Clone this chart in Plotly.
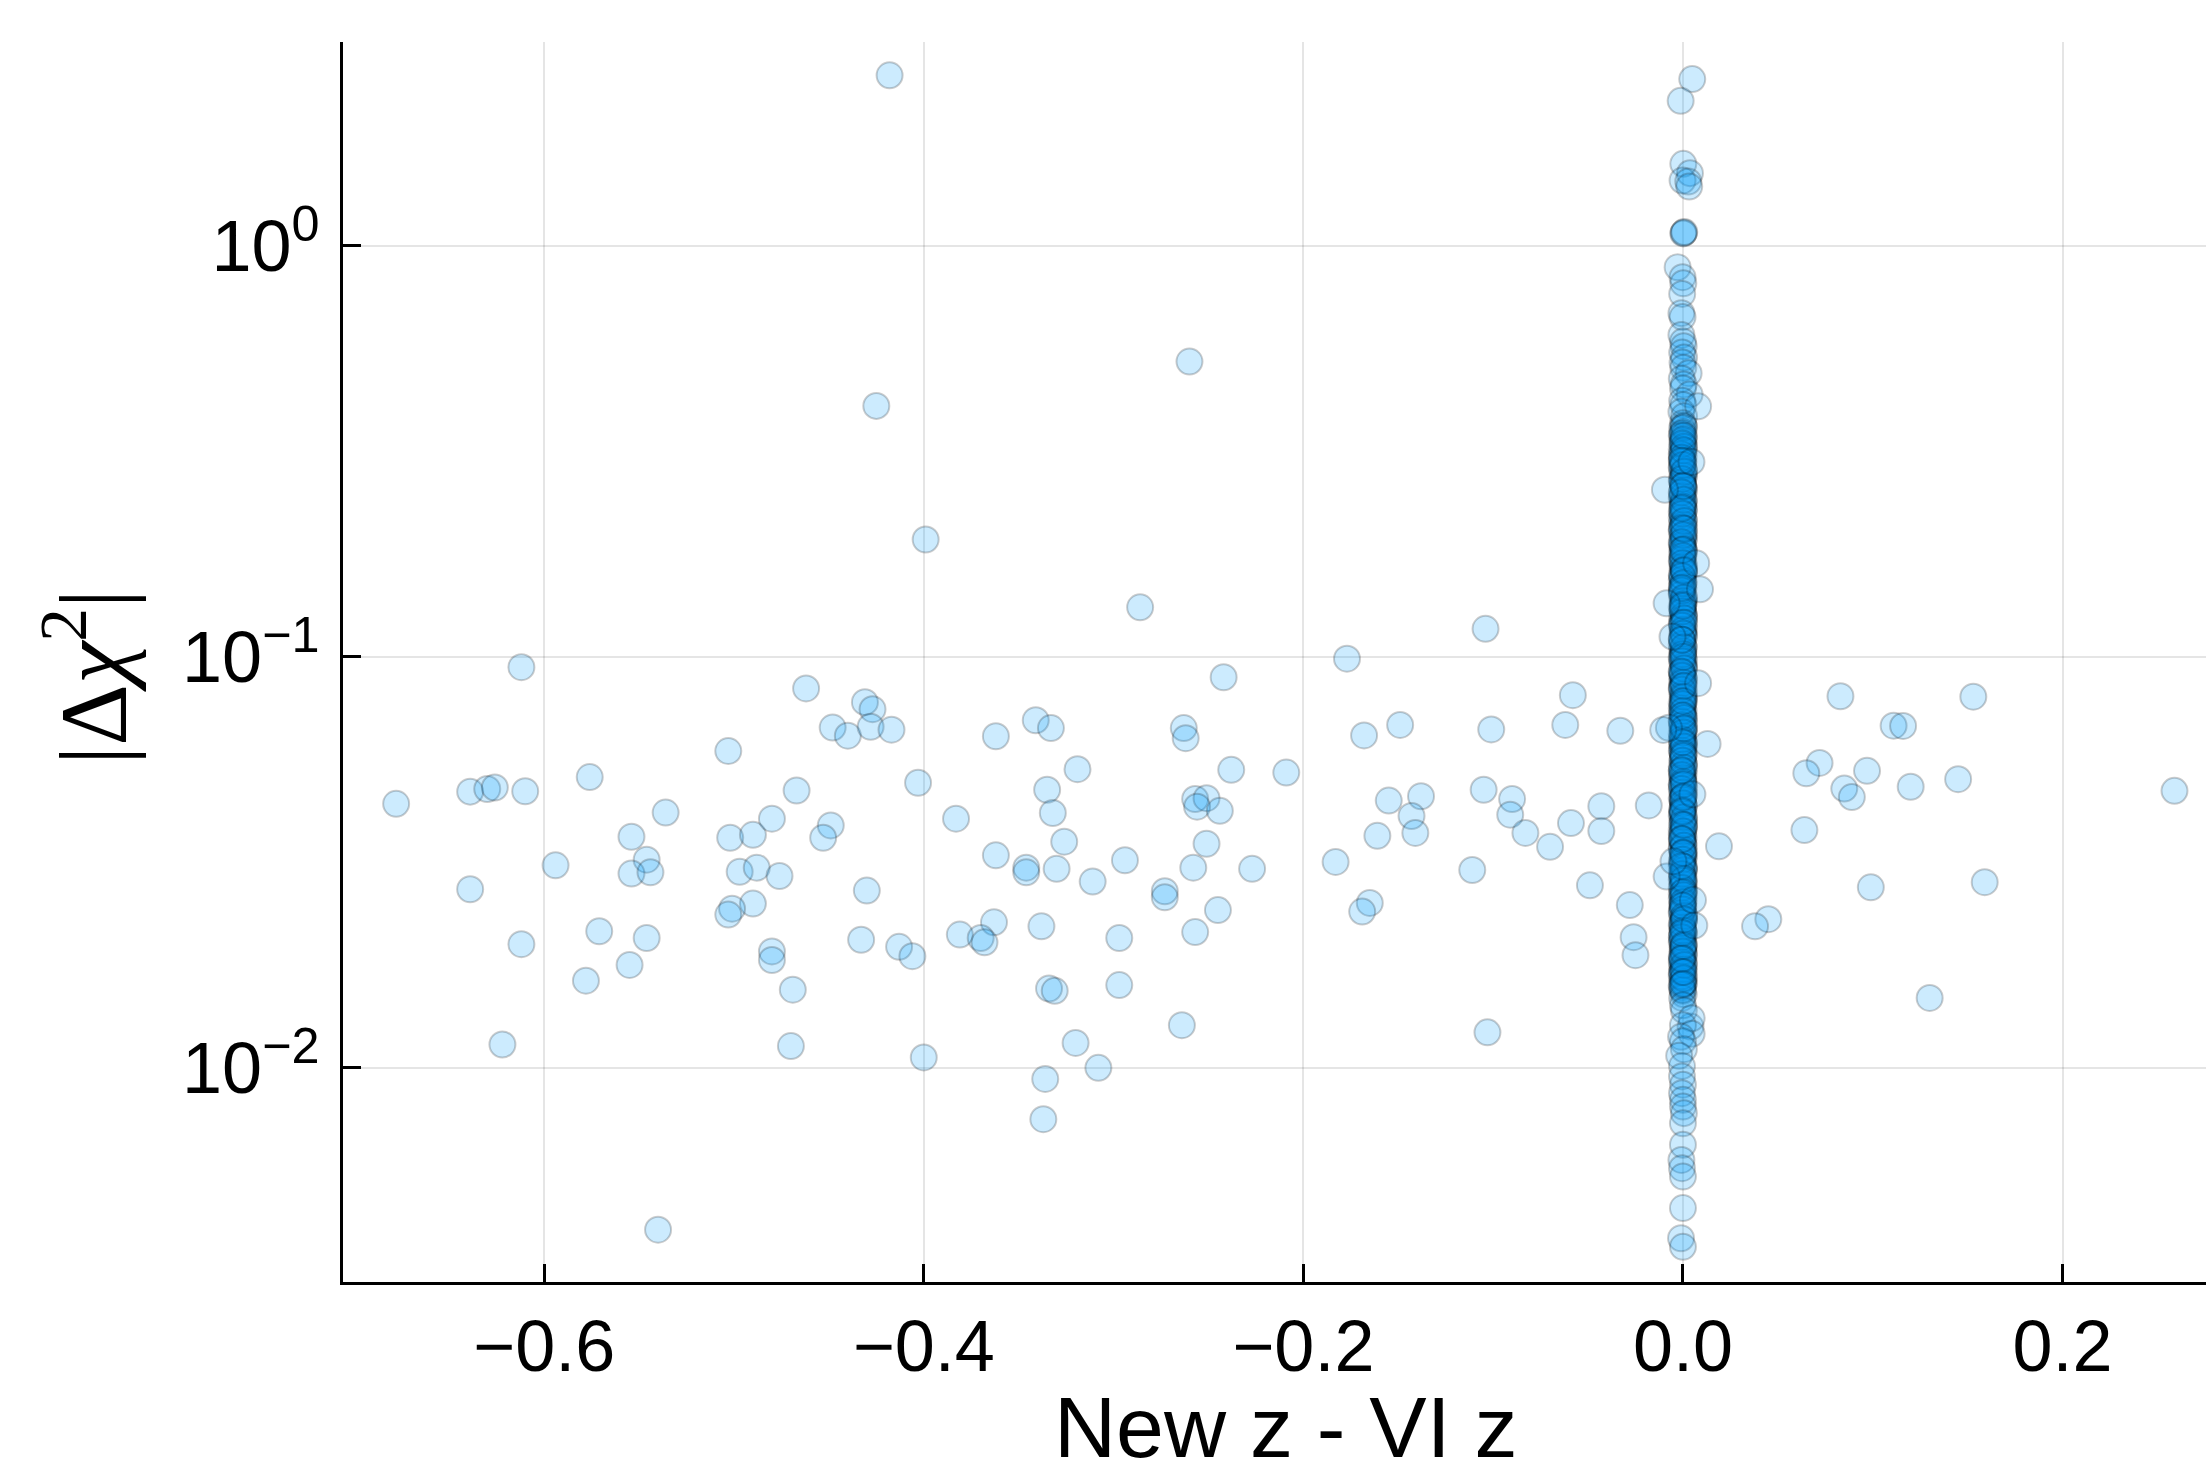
import plotly.graph_objects as go

# ---------------- data ----------------
# scattered points away from the z = 0 column: (New z - VI z, |delta chi^2|)
scatter_points = [
    (-0.678, 0.0439), (-0.639, 0.0470), (-0.630, 0.0477), (-0.626, 0.0481),
    (-0.610, 0.0471), (-0.612, 0.0944), (-0.576, 0.0510), (-0.639, 0.0272),
    (-0.594, 0.0311), (-0.612, 0.0200), (-0.622, 0.0114), (-0.571, 0.0215),
    (-0.578, 0.0163), (-0.555, 0.0178), (-0.546, 0.0207), (-0.554, 0.0365),
    (-0.536, 0.0418), (-0.546, 0.0321), (-0.554, 0.0297), (-0.544, 0.0299),
    (-0.503, 0.0590), (-0.502, 0.0363), (-0.490, 0.0369), (-0.480, 0.0404),
    (-0.467, 0.0473), (-0.497, 0.0300), (-0.488, 0.0307), (-0.476, 0.0293),
    (-0.490, 0.0251), (-0.501, 0.0244), (-0.503, 0.0236), (-0.480, 0.0192),
    (-0.480, 0.0183), (-0.469, 0.0155), (-0.470, 0.0113), (-0.462, 0.0838),
    (-0.449, 0.0389), (-0.453, 0.0363), (-0.448, 0.0673), (-0.440, 0.0643),
    (-0.431, 0.0776), (-0.427, 0.0746), (-0.428, 0.0676), (-0.417, 0.0665),
    (-0.403, 0.0494), (-0.430, 0.0270), (-0.433, 0.0205), (-0.413, 0.0197),
    (-0.406, 0.0187), (-0.400, 0.0106), (-0.383, 0.0404), (-0.362, 0.0641),
    (-0.341, 0.0701), (-0.333, 0.0671), (-0.319, 0.0533), (-0.335, 0.0475),
    (-0.332, 0.0417), (-0.326, 0.0355), (-0.362, 0.0329), (-0.346, 0.0307),
    (-0.346, 0.0299), (-0.330, 0.0305), (-0.311, 0.0284), (-0.294, 0.0320),
    (-0.363, 0.0226), (-0.381, 0.0211), (-0.370, 0.0207), (-0.368, 0.0202),
    (-0.338, 0.0221), (-0.297, 0.0207), (-0.334, 0.0156), (-0.331, 0.0154),
    (-0.297, 0.0159), (-0.320, 0.0115), (-0.308, 0.0100), (-0.336, 0.0094),
    (-0.337, 0.0075), (-0.540, 0.00404),
    (-0.418, 2.60), (-0.260, 0.523), (-0.425, 0.408), (-0.399, 0.193),
    (-0.286, 0.132), (-0.104, 0.117), (-0.177, 0.099),
    (-0.242, 0.0892), (-0.263, 0.0671), (-0.262, 0.0634), (-0.238, 0.0531),
    (-0.209, 0.0523), (-0.168, 0.0644), (-0.257, 0.0451), (-0.251, 0.0453),
    (-0.256, 0.0432), (-0.244, 0.0422), (-0.251, 0.0351), (-0.258, 0.0307),
    (-0.227, 0.0305), (-0.273, 0.0269), (-0.273, 0.0260), (-0.245, 0.0242),
    (-0.257, 0.0214), (-0.264, 0.0127), (-0.183, 0.0317), (-0.161, 0.0367),
    (-0.165, 0.0252), (-0.169, 0.0240),
    (-0.058, 0.0807), (-0.149, 0.0683), (-0.101, 0.0666), (-0.062, 0.0683),
    (-0.033, 0.0661), (-0.105, 0.0475), (-0.090, 0.0451), (-0.091, 0.0413),
    (-0.083, 0.0373), (-0.070, 0.0345), (-0.059, 0.0394), (-0.043, 0.0433),
    (-0.043, 0.0377), (-0.018, 0.0435), (-0.155, 0.0447), (-0.138, 0.0458),
    (-0.143, 0.0410), (-0.141, 0.0373), (-0.111, 0.0303), (-0.049, 0.0278),
    (-0.028, 0.0249), (-0.026, 0.0208), (-0.025, 0.0188), (-0.103, 0.0122),
    (0.083, 0.0802), (0.153, 0.0800), (0.111, 0.0680), (0.116, 0.0679),
    (0.072, 0.0552), (0.065, 0.0521), (0.097, 0.0528), (0.085, 0.0478),
    (0.089, 0.0456), (0.120, 0.0483), (0.145, 0.0504), (0.259, 0.0472),
    (0.064, 0.0379), (0.019, 0.0346), (0.013, 0.0614), (0.099, 0.0275),
    (0.159, 0.0283), (0.045, 0.0230), (0.038, 0.0221), (0.130, 0.0148),
]

# points in the dense column around New z - VI z = 0
column_points = [
    # sparse upper part
    (0.0049, 2.545), (-0.0012, 2.253), (0.0002, 1.583), (0.0037, 1.503),
    (-0.0002, 1.442), (0.0028, 1.434), (0.0033, 1.394), (0.0004, 1.076),
    (0.0002, 1.072), (0.0007, 1.080), (-0.0028, 0.887), (-0.0002, 0.839),
    (0.0002, 0.811), (-0.0004, 0.764), (-0.0008, 0.686), (-0.0002, 0.671),
    (-0.0008, 0.607),
    (0.0, 0.585), (0.0004, 0.57), (-0.0004, 0.55), (0.0006, 0.535),
    (-0.0002, 0.52), (0.0002, 0.505), (0.003, 0.49), (-0.0006, 0.475),
    (0.0004, 0.46), (0.0, 0.45), (0.0035, 0.435), (-0.0004, 0.42),
    (0.0002, 0.41), (-0.0008, 0.395), (0.0006, 0.385), (0.008, 0.407),
    # dense core, first layer
    (0.0, 0.37), (0.0004, 0.365), (-0.0004, 0.36), (0.0002, 0.352),
    (-0.0006, 0.345), (0.0006, 0.34), (-0.0002, 0.333), (0.0004, 0.327),
    (-0.0006, 0.32), (0.0, 0.315), (0.0004, 0.308), (-0.0004, 0.302),
    (0.0002, 0.297), (-0.0006, 0.29), (0.0006, 0.285), (-0.0002, 0.279),
    (0.0004, 0.274), (-0.0006, 0.268), (0.0, 0.263), (0.0004, 0.258),
    (-0.0004, 0.253), (0.0002, 0.248), (-0.0006, 0.243), (0.0006, 0.238),
    (-0.0002, 0.234), (0.0004, 0.229), (-0.0006, 0.225), (0.0, 0.221),
    (0.0004, 0.216), (-0.0004, 0.212), (0.0002, 0.208), (-0.0006, 0.204),
    (0.0006, 0.2), (-0.0002, 0.196), (0.0004, 0.192), (-0.0006, 0.188),
    (0.0, 0.185), (0.0004, 0.181), (-0.0004, 0.178), (0.0002, 0.174),
    (-0.0006, 0.171), (0.0006, 0.167), (-0.0002, 0.164), (0.0004, 0.161),
    (-0.0006, 0.158), (0.0, 0.155), (0.0004, 0.152), (-0.0004, 0.149),
    (0.0002, 0.146), (-0.0006, 0.143), (0.0006, 0.14), (-0.0002, 0.137),
    (0.0004, 0.135), (-0.0006, 0.132), (0.0, 0.13), (0.0004, 0.127),
    (-0.0004, 0.125), (0.0002, 0.122), (-0.0006, 0.12), (0.0006, 0.117),
    (-0.0002, 0.115), (0.0004, 0.113), (-0.0006, 0.111), (0.0, 0.108),
    (0.0004, 0.106), (-0.0004, 0.104), (0.0002, 0.102), (-0.0006, 0.1),
    (0.0006, 0.098), (-0.0002, 0.096), (0.0004, 0.094), (-0.0006, 0.092),
    (0.0, 0.09), (0.0004, 0.089), (-0.0004, 0.087), (0.0002, 0.085),
    (-0.0006, 0.084), (0.0006, 0.082), (-0.0002, 0.08), (0.0004, 0.079),
    (-0.0006, 0.077), (0.0, 0.076), (0.0004, 0.074), (-0.0004, 0.073),
    (0.0002, 0.071), (-0.0006, 0.07), (0.0006, 0.069), (-0.0002, 0.067),
    (0.0004, 0.066), (-0.0006, 0.065), (0.0, 0.063), (0.0004, 0.062),
    (-0.0004, 0.061), (0.0002, 0.06), (-0.0006, 0.059), (0.0006, 0.058),
    (-0.0002, 0.056), (0.0004, 0.055), (-0.0006, 0.054), (0.0, 0.053),
    (0.0004, 0.052), (-0.0004, 0.051), (0.0002, 0.05), (-0.0006, 0.049),
    (0.0006, 0.048), (-0.0002, 0.047), (0.0004, 0.046), (-0.0006, 0.0452),
    (0.0, 0.0443), (0.0004, 0.0435), (-0.0004, 0.0426), (0.0002, 0.0418),
    (-0.0006, 0.041), (0.0006, 0.0402), (-0.0002, 0.0394), (0.0004, 0.0386),
    (-0.0006, 0.0378), (0.0, 0.0371), (0.0004, 0.0364), (-0.0004, 0.0357),
    (0.0002, 0.035), (-0.0006, 0.0343), (0.0006, 0.0336), (-0.0002, 0.033),
    (0.0004, 0.0323), (-0.0006, 0.0317), (0.0, 0.031), (0.0004, 0.0304),
    (-0.0004, 0.0298), (0.0002, 0.0293), (-0.0006, 0.0287), (0.0006, 0.0281),
    (-0.0002, 0.0276), (0.0004, 0.027), (-0.0006, 0.0265), (0.0, 0.026),
    (0.0004, 0.0255), (-0.0004, 0.025), (0.0002, 0.0245), (-0.0006, 0.024),
    (0.0006, 0.0236), (-0.0002, 0.0231), (0.0004, 0.0227), (-0.0006, 0.0222),
    (0.0, 0.0218), (0.0004, 0.0214), (-0.0004, 0.021), (0.0002, 0.0206),
    (-0.0006, 0.0202), (0.0006, 0.0198), (-0.0002, 0.0194), (0.0004, 0.019),
    (-0.0006, 0.0187), (0.0, 0.0183), (0.0004, 0.018), (-0.0004, 0.0176),
    (0.0002, 0.0173), (-0.0006, 0.017), (0.0006, 0.0166), (-0.0002, 0.0163),
    (0.0004, 0.016), (-0.0006, 0.0157), (0.0, 0.0154), (0.0004, 0.0151),
    (-0.0004, 0.0148),
    # dense core, second layer
    (0.0006, 0.362), (-0.0004, 0.349), (0.0, 0.337), (0.0006, 0.324),
    (-0.0006, 0.311), (0.0002, 0.299), (-0.0006, 0.288), (0.0004, 0.276),
    (-0.0002, 0.266), (0.0006, 0.255), (-0.0004, 0.246), (0.0, 0.236),
    (0.0006, 0.227), (-0.0006, 0.218), (0.0002, 0.21), (-0.0006, 0.202),
    (0.0004, 0.194), (-0.0002, 0.187), (0.0006, 0.18), (-0.0004, 0.173),
    (0.0, 0.166), (0.0006, 0.16), (-0.0006, 0.154), (0.0002, 0.148),
    (-0.0006, 0.142), (0.0004, 0.137), (-0.0002, 0.131), (0.0006, 0.126),
    (-0.0004, 0.121), (0.0, 0.116), (0.0006, 0.112), (-0.0006, 0.107),
    (0.0002, 0.103), (-0.0006, 0.099), (0.0004, 0.095), (-0.0002, 0.091),
    (0.0006, 0.088), (-0.0004, 0.0845), (0.0, 0.081), (0.0006, 0.078),
    (-0.0006, 0.075), (0.0002, 0.072), (-0.0006, 0.0695), (0.0004, 0.0668),
    (-0.0002, 0.0642), (0.0006, 0.0617), (-0.0004, 0.0593), (0.0, 0.057),
    (0.0006, 0.0548), (-0.0006, 0.0527), (0.0002, 0.0507), (-0.0006, 0.0487),
    (0.0004, 0.0468), (-0.0002, 0.045), (0.0006, 0.0433), (-0.0004, 0.0416),
    (0.0, 0.04), (0.0006, 0.0385), (-0.0006, 0.037), (0.0002, 0.0355),
    (-0.0006, 0.0341), (0.0004, 0.0328), (-0.0002, 0.0315), (0.0006, 0.0303),
    (-0.0004, 0.0291), (0.0, 0.028), (0.0006, 0.0269), (-0.0006, 0.0258),
    (0.0002, 0.0248), (-0.0006, 0.0238), (0.0004, 0.0229), (-0.0002, 0.022),
    (0.0006, 0.0212), (-0.0004, 0.0204), (0.0, 0.0196), (0.0006, 0.0188),
    (-0.0006, 0.0181), (0.0002, 0.0174), (-0.0006, 0.0167), (0.0004, 0.0161),
    (-0.0002, 0.0155),
    # dense core, third layer
    (-0.0002, 0.33), (0.0004, 0.318), (-0.0006, 0.305), (0.0, 0.293),
    (0.0006, 0.282), (-0.0004, 0.271), (0.0002, 0.261), (-0.0006, 0.251),
    (0.0004, 0.241), (0.0, 0.232), (-0.0002, 0.223), (0.0006, 0.214),
    (-0.0004, 0.206), (0.0002, 0.198), (-0.0006, 0.19), (0.0004, 0.183),
    (0.0, 0.176), (-0.0002, 0.169), (0.0006, 0.163), (-0.0004, 0.157),
    (0.0002, 0.151), (-0.0006, 0.145), (0.0004, 0.139), (0.0, 0.134),
    (-0.0002, 0.129), (0.0006, 0.124), (-0.0004, 0.119), (0.0002, 0.114),
    (-0.0006, 0.11), (0.0004, 0.1055), (0.0, 0.1015), (-0.0002, 0.0975),
    (0.0006, 0.0937), (-0.0004, 0.09), (0.0002, 0.0865), (-0.0006, 0.0832),
    (0.0004, 0.08), (0.0, 0.0768), (-0.0002, 0.0738), (0.0006, 0.071),
    (-0.0004, 0.0682), (0.0002, 0.0655), (-0.0006, 0.063), (0.0004, 0.0605),
    (0.0, 0.0582), (-0.0002, 0.0559), (0.0006, 0.0537), (-0.0004, 0.0516),
    (0.0002, 0.0496), (-0.0006, 0.0477), (0.0004, 0.0458), (0.0, 0.044),
    (-0.0002, 0.0423), (0.0006, 0.0407), (-0.0004, 0.0391), (0.0002, 0.0376),
    (-0.0006, 0.0361), (0.0004, 0.0347), (0.0, 0.0334), (-0.0002, 0.0321),
    (0.0006, 0.0308), (-0.0004, 0.0296), (0.0002, 0.0285), (-0.0006, 0.0274),
    (0.0004, 0.0263), (0.0, 0.0253), (-0.0002, 0.0243), (0.0006, 0.0234),
    (-0.0004, 0.0225), (0.0002, 0.0216), (-0.0006, 0.0208), (0.0004, 0.02),
    (0.0, 0.0192), (-0.0002, 0.0185), (0.0006, 0.0178), (-0.0004, 0.0171),
    (0.0002, 0.0165), (-0.0006, 0.0159),
    # dense core, fourth layer
    (0.0004, 0.345), (-0.0006, 0.3), (0.0002, 0.26), (-0.0004, 0.23),
    (0.0006, 0.205), (-0.0002, 0.182), (0.0004, 0.162), (-0.0006, 0.147),
    (0.0, 0.133), (0.0006, 0.121), (-0.0004, 0.11), (0.0002, 0.1),
    (-0.0006, 0.092), (0.0004, 0.085), (0.0, 0.078), (-0.0002, 0.072),
    (0.0006, 0.067), (-0.0004, 0.062), (0.0002, 0.0575), (-0.0006, 0.053),
    (0.0004, 0.049), (0.0, 0.0455), (-0.0002, 0.042), (0.0006, 0.039),
    (-0.0004, 0.036), (0.0002, 0.0333), (-0.0006, 0.031), (0.0004, 0.0288),
    (0.0, 0.0267), (-0.0002, 0.0248), (0.0006, 0.023), (-0.0004, 0.0213),
    (0.0002, 0.0198), (-0.0006, 0.0184), (0.0004, 0.0171), (0.0, 0.016),
    # points that stick out of the column
    (-0.0074, 0.0672), (0.008, 0.0863), (0.0053, 0.0256), (-0.0104, 0.0664),
    (0.009, 0.146), (-0.0095, 0.255), (0.007, 0.169), (-0.0086, 0.135),
    (-0.0086, 0.0292), (0.004, 0.0126), (0.005, 0.0463), (-0.005, 0.0318),
    (0.006, 0.0222), (-0.0055, 0.112), (0.0045, 0.298),
    # lower tail of the column
    (0.0, 0.0142), (0.0005, 0.0138), (0.0046, 0.0132), (0.0, 0.0127),
    (0.0046, 0.0121), (-0.001, 0.0119), (0.0, 0.0116), (0.0005, 0.0111),
    (-0.002, 0.0107), (-0.0005, 0.0101), (-0.0005, 0.00953), (0.0, 0.0091),
    (-0.0005, 0.00868), (0.0, 0.00836), (0.0, 0.00805), (0.0005, 0.00776),
    (0.0, 0.00733), (0.0, 0.0065), (-0.0008, 0.00597), (-0.0005, 0.0057),
    (0.0, 0.00544), (0.0, 0.00456), (-0.001, 0.00385), (0.0, 0.00367),
]

x_tick_vals = [-0.6, -0.4, -0.2, 0.0, 0.2]
x_tick_text = ["\u22120.6", "\u22120.4", "\u22120.2", "0.0", "0.2"]
y_tick_vals = [1, 0.1, 0.01]
y_tick_text = ["10<sup>0</sup>", "10<sup>\u22121</sup>", "10<sup>\u22122</sup>"]

# ---------------- figure ----------------
all_points = scatter_points + column_points
xs = [p[0] for p in all_points]
ys = [p[1] for p in all_points]

fig = go.Figure()
fig.add_trace(go.Scatter(
    x=xs, y=ys, mode="markers",
    marker=dict(size=26, color="rgba(0,154,250,0.2)",
                line=dict(color="rgba(0,0,0,0.2)", width=2)),
    showlegend=False, hoverinfo="skip",
))

W, H = 2206, 1477
ML, MR, MT, MB = 343, 0, 42, 195
tick_font = dict(family="Liberation Sans, Arial, sans-serif", size=72, color="black")

axis_common = dict(
    showline=True, linecolor="black", linewidth=3, mirror=False,
    ticks="inside", ticklen=18, tickwidth=3, tickcolor="black",
    showgrid=True, gridcolor="rgba(0,0,0,0.1)", gridwidth=2,
    zeroline=False, tickfont=tick_font,
)

fig.update_layout(
    width=W, height=H,
    margin=dict(l=ML, r=MR, t=MT, b=MB),
    paper_bgcolor="white", plot_bgcolor="white",
    xaxis=dict(range=[-0.706, 0.2756], tickvals=x_tick_vals, ticktext=x_tick_text,
               ticklabelstandoff=0, **axis_common),
    yaxis=dict(type="log", range=[-2.521, 0.496], tickvals=y_tick_vals,
               ticktext=y_tick_text, ticklabelstandoff=6, **axis_common),
)

plot_w = W - ML - MR
plot_h = H - MT - MB
fig.add_annotation(
    text="New z - VI z", xref="paper", yref="paper",
    x=(1286 - ML) / plot_w, y=-(1427 - (H - MB)) / plot_h,
    xanchor="center", yanchor="middle", showarrow=False,
    font=dict(family="Liberation Sans, Arial, sans-serif", size=86, color="black"),
)
fig.add_annotation(
    text="|\u0394<i>\u03c7</i><sup>2</sup>|", xref="paper", yref="paper",
    x=(86 - ML) / plot_w, y=((H - MB) - 677) / plot_h,
    xanchor="center", yanchor="middle", textangle=-90, showarrow=False,
    font=dict(family="Liberation Serif, DejaVu Serif, serif", size=96, color="black"),
)

fig.write_html("out.html")
